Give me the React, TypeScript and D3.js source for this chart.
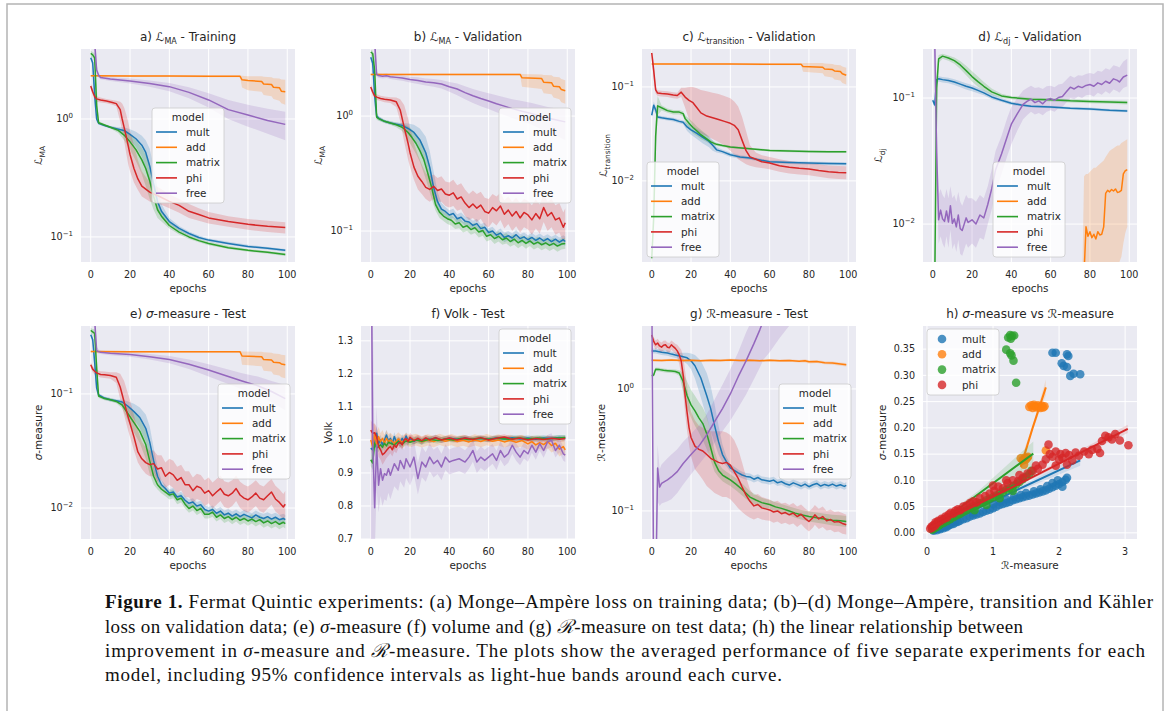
import React from "react";
import * as d3 from "d3";

type Row = [number, number, number, number]; // epoch, mean, lo, hi
type Pt = [number, number];

const MODELS = ["mult", "add", "matrix", "phi", "free"];
const COLORS: Record<string, string> = {
  mult: "#1f77b4",
  add: "#ff7f0e",
  matrix: "#2ca02c",
  phi: "#d62728",
  free: "#9467bd",
};
const X_TICKS = [0, 20, 40, 60, 80, 100];

// ---- a) L_MA training
const A_mult: Row[] = [[0,3.3,3.1,3.5],[1,3.0,2.8,3.2],[2,1.6,1.3,2.0],[3,1.0,0.95,1.1],[4,0.92,0.9,0.94],[7,0.88,0.86,0.9],[10,0.85,0.83,0.87],[14,0.82,0.79,0.85],[17,0.8,0.76,0.85],[20,0.74,0.66,0.82],[23,0.68,0.58,0.78],[26,0.6,0.48,0.72],[28,0.52,0.38,0.66],[30,0.4,0.28,0.56],[32,0.28,0.22,0.4],[34,0.2,0.17,0.26],[36,0.165,0.15,0.19],[40,0.135,0.128,0.145],[45,0.118,0.113,0.124],[50,0.107,0.103,0.111],[55,0.099,0.096,0.103],[60,0.094,0.091,0.097],[70,0.088,0.086,0.091],[80,0.083,0.081,0.086],[90,0.08,0.078,0.082],[99,0.077,0.075,0.079]];
const A_add: Row[] = [[0,2.32,2.28,2.36],[20,2.31,2.27,2.35],[40,2.31,2.27,2.35],[60,2.3,2.26,2.34],[76,2.3,2.26,2.34],[77,2.15,1.85,2.32],[80,2.12,1.75,2.3],[87,2.08,1.7,2.3],[88,1.98,1.6,2.28],[92,1.96,1.56,2.26],[93,1.86,1.48,2.22],[96,1.84,1.43,2.2],[97,1.72,1.36,2.16],[99,1.7,1.32,2.15]];
const A_matrix: Row[] = [[0,3.6,3.4,3.8],[1,3.5,3.3,3.7],[2,3.3,3.0,3.6],[3,1.3,1.0,2.0],[4,0.93,0.9,0.96],[7,0.89,0.87,0.91],[10,0.85,0.83,0.87],[14,0.8,0.76,0.84],[17,0.73,0.66,0.8],[20,0.64,0.55,0.74],[23,0.55,0.44,0.66],[26,0.45,0.34,0.57],[28,0.38,0.27,0.5],[30,0.3,0.21,0.42],[32,0.22,0.17,0.3],[34,0.17,0.145,0.21],[36,0.15,0.135,0.165],[40,0.125,0.118,0.133],[45,0.11,0.105,0.116],[50,0.1,0.096,0.104],[55,0.093,0.09,0.097],[60,0.088,0.085,0.091],[70,0.081,0.079,0.084],[80,0.077,0.075,0.079],[90,0.074,0.072,0.076],[99,0.071,0.069,0.073]];
const A_phi: Row[] = [[0,1.9,1.8,2.0],[1,1.7,1.6,1.8],[2,1.55,1.45,1.65],[3,1.48,1.4,1.56],[5,1.45,1.38,1.52],[8,1.42,1.36,1.48],[11,1.38,1.32,1.45],[13,1.35,1.28,1.43],[15,1.2,0.95,1.4],[16,1.0,0.8,1.35],[17,0.85,0.65,1.25],[18,0.72,0.52,1.1],[19,0.6,0.42,0.95],[20,0.5,0.36,0.8],[22,0.38,0.29,0.6],[24,0.31,0.25,0.45],[26,0.27,0.22,0.36],[30,0.24,0.2,0.29],[35,0.22,0.19,0.26],[40,0.2,0.175,0.23],[45,0.185,0.16,0.21],[50,0.165,0.145,0.19],[55,0.155,0.137,0.175],[60,0.145,0.13,0.163],[70,0.135,0.122,0.15],[80,0.128,0.115,0.142],[90,0.123,0.11,0.137],[99,0.12,0.107,0.133]];
const A_free: Row[] = [[0,14,10,18],[1,9,6,12],[2,4.5,3,6],[3,2.6,2.4,2.9],[4,2.35,2.25,2.45],[5,2.25,2.17,2.33],[10,2.18,2.1,2.26],[20,2.1,2.0,2.2],[30,2.0,1.88,2.12],[40,1.88,1.72,2.02],[50,1.68,1.5,1.86],[60,1.45,1.25,1.65],[70,1.2,1.0,1.45],[80,1.08,0.86,1.32],[90,0.97,0.75,1.22],[99,0.9,0.66,1.15]];

// ---- b) L_MA validation
const B_mult: Row[] = [[0,3.25,3.0,3.5],[1,2.9,2.6,3.2],[2,1.5,1.2,2.0],[3,1.0,0.95,1.08],[4,0.96,0.92,1.0],[7,0.9,0.87,0.93],[10,0.87,0.84,0.9],[13,0.85,0.82,0.88],[16,0.83,0.79,0.87],[19,0.78,0.7,0.86],[22,0.72,0.6,0.84],[25,0.62,0.5,0.78],[28,0.48,0.36,0.66],[30,0.36,0.27,0.5],[32,0.24,0.19,0.33],[34,0.18,0.155,0.22],[36,0.155,0.14,0.175],[38,0.148,0.135,0.162],[40,0.138,0.126,0.152],[42,0.142,0.13,0.156],[44,0.128,0.117,0.14],[46,0.132,0.12,0.145],[48,0.122,0.112,0.134],[50,0.12,0.11,0.131],[52,0.112,0.102,0.123],[54,0.116,0.106,0.127],[56,0.105,0.096,0.115],[58,0.108,0.098,0.118],[60,0.097,0.089,0.106],[62,0.1,0.092,0.109],[64,0.092,0.084,0.1],[66,0.096,0.088,0.105],[68,0.088,0.08,0.097],[70,0.091,0.083,0.1],[72,0.087,0.079,0.095],[74,0.093,0.085,0.102],[76,0.086,0.078,0.094],[78,0.089,0.081,0.097],[80,0.084,0.077,0.092],[82,0.088,0.08,0.096],[84,0.083,0.076,0.091],[86,0.087,0.079,0.095],[88,0.082,0.075,0.09],[90,0.086,0.078,0.094],[92,0.081,0.074,0.089],[94,0.085,0.077,0.093],[96,0.08,0.073,0.088],[98,0.084,0.076,0.092],[99,0.081,0.074,0.089]];
const B_add: Row[] = [[0,2.3,2.26,2.34],[20,2.3,2.26,2.34],[40,2.3,2.26,2.34],[60,2.3,2.26,2.34],[76,2.3,2.26,2.34],[77,2.15,1.8,2.32],[87,2.12,1.72,2.3],[88,1.97,1.58,2.28],[92,1.95,1.55,2.26],[93,1.82,1.45,2.2],[96,1.8,1.4,2.18],[97,1.7,1.32,2.1],[99,1.66,1.28,2.05]];
const B_matrix: Row[] = [[0,3.6,3.4,3.8],[1,3.5,3.3,3.7],[2,2.5,2.0,3.3],[3,0.98,0.93,1.05],[4,0.95,0.91,0.99],[7,0.9,0.87,0.93],[10,0.87,0.84,0.9],[13,0.84,0.8,0.88],[16,0.8,0.74,0.86],[19,0.72,0.62,0.82],[21,0.65,0.54,0.76],[23,0.58,0.47,0.7],[25,0.5,0.4,0.63],[27,0.42,0.32,0.55],[29,0.32,0.25,0.44],[31,0.24,0.19,0.31],[33,0.17,0.15,0.2],[35,0.146,0.13,0.165],[37,0.135,0.122,0.15],[39,0.128,0.115,0.142],[41,0.124,0.112,0.138],[43,0.115,0.104,0.128],[45,0.118,0.106,0.131],[47,0.108,0.097,0.12],[49,0.111,0.1,0.123],[51,0.103,0.093,0.114],[53,0.107,0.096,0.118],[55,0.098,0.088,0.109],[57,0.101,0.091,0.112],[59,0.09,0.081,0.1],[61,0.093,0.084,0.103],[63,0.086,0.077,0.095],[65,0.09,0.081,0.1],[67,0.084,0.076,0.093],[69,0.087,0.078,0.096],[71,0.081,0.073,0.09],[73,0.085,0.076,0.094],[75,0.079,0.071,0.088],[77,0.083,0.075,0.092],[79,0.078,0.07,0.087],[81,0.082,0.074,0.091],[83,0.077,0.069,0.086],[85,0.08,0.072,0.089],[87,0.076,0.068,0.085],[89,0.079,0.071,0.088],[91,0.075,0.067,0.084],[93,0.078,0.07,0.087],[95,0.074,0.066,0.083],[97,0.077,0.069,0.086],[99,0.078,0.07,0.087]];
const B_phi: Row[] = [[0,1.79,1.7,1.9],[1,1.62,1.52,1.72],[2,1.5,1.42,1.6],[3,1.46,1.38,1.55],[5,1.42,1.35,1.5],[7,1.4,1.32,1.48],[10,1.38,1.3,1.46],[13,1.33,1.2,1.45],[15,1.13,0.9,1.4],[17,0.8,0.6,1.25],[19,0.58,0.42,0.95],[20,0.48,0.36,0.8],[22,0.36,0.28,0.58],[24,0.3,0.23,0.46],[26,0.27,0.21,0.38],[28,0.24,0.19,0.32],[30,0.23,0.18,0.3],[32,0.245,0.19,0.31],[34,0.225,0.18,0.29],[36,0.232,0.18,0.3],[38,0.21,0.165,0.27],[40,0.205,0.16,0.265],[42,0.215,0.165,0.28],[44,0.19,0.15,0.25],[46,0.198,0.155,0.26],[48,0.175,0.135,0.23],[50,0.16,0.125,0.21],[52,0.172,0.13,0.225],[54,0.158,0.12,0.21],[56,0.168,0.128,0.22],[58,0.148,0.112,0.195],[60,0.143,0.108,0.19],[62,0.16,0.12,0.21],[64,0.15,0.112,0.2],[66,0.165,0.125,0.215],[68,0.14,0.105,0.185],[70,0.152,0.115,0.2],[72,0.135,0.1,0.18],[74,0.148,0.11,0.195],[76,0.13,0.097,0.175],[78,0.145,0.108,0.19],[80,0.138,0.103,0.183],[82,0.125,0.093,0.168],[84,0.142,0.105,0.188],[86,0.128,0.095,0.17],[88,0.16,0.12,0.21],[90,0.135,0.1,0.18],[92,0.145,0.108,0.19],[94,0.125,0.093,0.168],[96,0.13,0.097,0.175],[98,0.108,0.08,0.145],[99,0.118,0.088,0.158]];
const B_free: Row[] = [[0,14,10,18],[1,9,6,12],[2,4.5,3,6],[3,2.3,2.2,2.45],[4,2.25,2.15,2.35],[6,2.22,2.12,2.32],[8,2.24,2.14,2.34],[10,2.2,2.1,2.3],[13,2.17,2.06,2.28],[16,2.14,2.03,2.25],[20,2.08,1.96,2.2],[24,2.04,1.9,2.17],[28,1.98,1.84,2.12],[32,1.95,1.8,2.1],[36,1.9,1.74,2.06],[40,1.8,1.63,1.98],[44,1.72,1.52,1.92],[48,1.6,1.4,1.82],[52,1.5,1.3,1.72],[56,1.42,1.22,1.64],[60,1.35,1.15,1.58],[64,1.28,1.08,1.52],[68,1.22,1.02,1.46],[72,1.16,0.96,1.4],[77,1.1,0.9,1.35],[82,1.05,0.84,1.3],[86,1.0,0.78,1.25],[90,0.96,0.72,1.2],[94,0.93,0.68,1.17],[99,0.89,0.62,1.14]];

// ---- c) L_transition validation
const C_mult: Row[] = [[0,0.05,0.048,0.052],[1,0.064,0.058,0.07],[2,0.057,0.052,0.062],[3,0.048,0.046,0.05],[5,0.047,0.045,0.049],[8,0.046,0.044,0.048],[11,0.045,0.043,0.047],[14,0.043,0.041,0.045],[16,0.042,0.04,0.044],[18,0.0375,0.034,0.041],[20,0.035,0.031,0.039],[23,0.032,0.028,0.036],[26,0.029,0.025,0.033],[29,0.0265,0.023,0.03],[31,0.024,0.021,0.027],[33,0.0214,0.02,0.023],[36,0.0205,0.0195,0.0215],[40,0.019,0.018,0.02],[45,0.018,0.0172,0.0188],[50,0.0175,0.0168,0.0182],[60,0.016,0.0154,0.0166],[70,0.0157,0.0151,0.0163],[80,0.0155,0.0149,0.0161],[90,0.0153,0.0147,0.0159],[99,0.0152,0.0146,0.0158]];
const C_add: Row[] = [[0,0.176,0.172,0.18],[20,0.175,0.171,0.179],[40,0.175,0.171,0.179],[60,0.174,0.17,0.178],[76,0.174,0.17,0.178],[77,0.165,0.145,0.18],[87,0.162,0.14,0.18],[88,0.155,0.13,0.178],[92,0.153,0.126,0.176],[93,0.148,0.12,0.172],[96,0.146,0.117,0.17],[97,0.138,0.11,0.165],[99,0.133,0.106,0.16]];
const C_matrix: Row[] = [[0,0.0015,0.0012,0.002],[1,0.004,0.003,0.006],[2,0.03,0.02,0.045],[3,0.063,0.05,0.08],[5,0.06,0.056,0.064],[8,0.056,0.053,0.059],[11,0.054,0.051,0.057],[14,0.054,0.051,0.057],[16,0.052,0.049,0.055],[17,0.046,0.042,0.05],[19,0.041,0.036,0.046],[21,0.037,0.032,0.042],[23,0.034,0.03,0.038],[25,0.031,0.028,0.035],[28,0.028,0.026,0.031],[30,0.026,0.0245,0.0275],[33,0.0245,0.0235,0.0255],[36,0.0238,0.023,0.0246],[40,0.023,0.0223,0.0237],[50,0.022,0.0214,0.0226],[60,0.0211,0.0205,0.0217],[70,0.0208,0.0202,0.0214],[80,0.0205,0.0199,0.0211],[90,0.0204,0.0198,0.021],[99,0.0204,0.0198,0.021]];
const C_phi: Row[] = [[0,0.23,0.2,0.26],[1,0.15,0.12,0.19],[2,0.093,0.085,0.1],[3,0.086,0.08,0.092],[5,0.085,0.079,0.091],[8,0.084,0.078,0.09],[11,0.082,0.076,0.088],[13,0.081,0.075,0.087],[15,0.088,0.078,0.098],[17,0.078,0.06,0.098],[19,0.072,0.045,0.1],[21,0.068,0.038,0.1],[23,0.06,0.034,0.097],[25,0.053,0.032,0.093],[28,0.049,0.03,0.09],[31,0.047,0.028,0.087],[34,0.045,0.026,0.084],[37,0.043,0.024,0.08],[40,0.041,0.021,0.076],[42,0.039,0.019,0.07],[44,0.035,0.017,0.062],[46,0.027,0.016,0.048],[48,0.021,0.015,0.034],[50,0.018,0.0145,0.024],[53,0.017,0.014,0.02],[56,0.016,0.0137,0.0188],[60,0.0155,0.0133,0.018],[65,0.0145,0.0125,0.017],[70,0.014,0.012,0.0163],[75,0.0136,0.0117,0.0158],[80,0.0134,0.0115,0.0155],[85,0.0129,0.0111,0.015],[90,0.0125,0.0107,0.0146],[95,0.0123,0.0105,0.0144],[99,0.0122,0.0104,0.0143]];
const C_free: Row[] = [];

// ---- d) L_dj validation
const D_mult: Row[] = [[0,0.096,0.092,0.1],[1,0.088,0.084,0.092],[2,0.14,0.13,0.15],[3,0.142,0.135,0.149],[5,0.14,0.133,0.147],[8,0.138,0.131,0.145],[11,0.134,0.127,0.141],[14,0.129,0.122,0.136],[17,0.124,0.117,0.131],[20,0.12,0.113,0.127],[23,0.115,0.109,0.121],[26,0.11,0.105,0.116],[30,0.102,0.098,0.107],[35,0.096,0.093,0.1],[40,0.091,0.088,0.094],[45,0.088,0.086,0.09],[50,0.086,0.084,0.088],[60,0.085,0.083,0.087],[70,0.083,0.081,0.085],[80,0.082,0.08,0.084],[90,0.08,0.078,0.082],[99,0.079,0.077,0.081]];
const D_add: Row[] = [[0,0.002,0.001,0.003],[40,0.002,0.001,0.003],[76,0.002,0.001,0.003],[77,0.004,0.002,0.024],[78,0.0095,0.0035,0.025],[79,0.008,0.0034,0.025],[80,0.0087,0.0035,0.026],[81,0.0078,0.0034,0.027],[82,0.0083,0.0035,0.028],[83,0.0076,0.0034,0.028],[84,0.0087,0.0036,0.029],[85,0.0082,0.0035,0.03],[86,0.0083,0.0036,0.031],[87,0.0095,0.0038,0.032],[88,0.0175,0.0045,0.034],[89,0.0185,0.0046,0.036],[90,0.018,0.0047,0.038],[91,0.0188,0.0048,0.039],[92,0.0183,0.0048,0.04],[93,0.019,0.0049,0.041],[94,0.0178,0.0048,0.042],[95,0.018,0.005,0.042],[96,0.0185,0.0055,0.044],[97,0.025,0.007,0.045],[98,0.0265,0.0085,0.046],[99,0.027,0.0095,0.047]];
const D_matrix: Row[] = [[0,0.002,0.001,0.003],[1,0.003,0.002,0.005],[2,0.12,0.08,0.16],[3,0.205,0.19,0.22],[5,0.215,0.205,0.225],[8,0.208,0.198,0.218],[11,0.198,0.187,0.21],[14,0.183,0.17,0.197],[17,0.165,0.152,0.18],[20,0.148,0.135,0.163],[23,0.135,0.123,0.148],[26,0.124,0.115,0.134],[30,0.112,0.106,0.119],[35,0.104,0.1,0.108],[40,0.101,0.098,0.104],[50,0.098,0.095,0.101],[60,0.097,0.094,0.1],[70,0.095,0.092,0.098],[80,0.094,0.091,0.097],[90,0.093,0.09,0.096],[99,0.092,0.089,0.095]];
const D_phi: Row[] = [];
const D_free: Row[] = [[0,0.9,0.5,1.5],[1,0.3,0.15,0.6],[2,0.037,0.02,0.07],[3,0.0108,0.007,0.017],[4,0.0129,0.008,0.019],[5,0.011,0.007,0.017],[6,0.0105,0.0065,0.016],[7,0.0127,0.008,0.019],[8,0.0104,0.0065,0.016],[9,0.014,0.009,0.02],[10,0.0101,0.0063,0.016],[11,0.011,0.007,0.017],[12,0.0095,0.006,0.015],[13,0.0118,0.0075,0.018],[14,0.0092,0.0058,0.015],[15,0.0089,0.0056,0.014],[17,0.0112,0.007,0.017],[18,0.0103,0.0065,0.016],[20,0.0108,0.007,0.016],[22,0.01,0.0065,0.015],[24,0.0118,0.0078,0.017],[26,0.0112,0.0075,0.016],[28,0.0143,0.01,0.02],[30,0.019,0.013,0.027],[32,0.027,0.018,0.038],[35,0.036,0.025,0.05],[38,0.05,0.035,0.07],[40,0.062,0.043,0.085],[43,0.075,0.055,0.1],[46,0.089,0.068,0.115],[48,0.094,0.073,0.12],[50,0.098,0.078,0.125],[52,0.092,0.074,0.12],[54,0.095,0.076,0.122],[56,0.09,0.073,0.118],[58,0.097,0.078,0.124],[60,0.099,0.08,0.125],[62,0.096,0.078,0.122],[64,0.101,0.083,0.128],[66,0.103,0.085,0.13],[68,0.112,0.092,0.14],[70,0.122,0.1,0.15],[72,0.118,0.098,0.145],[74,0.124,0.103,0.152],[76,0.121,0.1,0.15],[78,0.126,0.105,0.155],[80,0.128,0.106,0.158],[82,0.124,0.103,0.155],[84,0.132,0.11,0.165],[86,0.128,0.106,0.162],[88,0.136,0.113,0.172],[90,0.131,0.108,0.168],[92,0.142,0.117,0.182],[94,0.138,0.113,0.178],[95,0.134,0.11,0.175],[97,0.147,0.12,0.195],[99,0.152,0.124,0.205]];

// ---- e) sigma-measure test
const E_mult: Row[] = [[0,0.33,0.31,0.35],[1,0.3,0.28,0.32],[2,0.19,0.15,0.24],[3,0.113,0.105,0.125],[4,0.098,0.094,0.102],[7,0.092,0.089,0.095],[10,0.089,0.086,0.092],[13,0.087,0.084,0.09],[16,0.085,0.081,0.089],[19,0.078,0.07,0.086],[22,0.07,0.06,0.082],[25,0.062,0.05,0.076],[28,0.05,0.038,0.066],[30,0.038,0.029,0.052],[32,0.026,0.021,0.034],[34,0.019,0.017,0.023],[36,0.016,0.0148,0.0175],[38,0.0148,0.0137,0.016],[40,0.0135,0.0125,0.0146],[42,0.0138,0.0127,0.015],[44,0.0125,0.0116,0.0135],[46,0.0128,0.0118,0.0139],[48,0.0117,0.0108,0.0127],[50,0.011,0.0102,0.0119],[52,0.0113,0.0104,0.0122],[54,0.0104,0.0096,0.0113],[56,0.0107,0.0099,0.0116],[58,0.0097,0.009,0.0105],[60,0.0094,0.0087,0.0102],[62,0.0097,0.009,0.0105],[64,0.009,0.0083,0.0098],[66,0.0094,0.0087,0.0102],[68,0.0087,0.008,0.0095],[70,0.009,0.0083,0.0098],[72,0.0085,0.0078,0.0093],[74,0.0089,0.0082,0.0097],[76,0.0084,0.0077,0.0092],[78,0.0088,0.0081,0.0096],[80,0.0085,0.0078,0.0093],[82,0.0082,0.0075,0.009],[84,0.0087,0.008,0.0095],[86,0.0083,0.0076,0.0091],[88,0.0081,0.0074,0.0089],[90,0.0084,0.0077,0.0092],[92,0.008,0.0073,0.0088],[94,0.0083,0.0076,0.0091],[96,0.0079,0.0072,0.0087],[98,0.0081,0.0074,0.0089],[99,0.0079,0.0072,0.0087]];
const E_add: Row[] = [[0,0.235,0.231,0.239],[20,0.234,0.23,0.238],[40,0.234,0.23,0.238],[60,0.234,0.23,0.238],[76,0.234,0.23,0.238],[77,0.215,0.18,0.235],[87,0.212,0.175,0.234],[88,0.2,0.16,0.232],[92,0.198,0.157,0.23],[93,0.19,0.148,0.226],[96,0.188,0.145,0.224],[97,0.183,0.14,0.22],[99,0.18,0.137,0.218]];
const E_matrix: Row[] = [[0,0.36,0.34,0.38],[1,0.35,0.33,0.37],[2,0.34,0.3,0.37],[3,0.17,0.12,0.25],[4,0.096,0.092,0.1],[7,0.091,0.088,0.094],[10,0.089,0.086,0.092],[13,0.086,0.083,0.089],[16,0.08,0.075,0.086],[19,0.067,0.058,0.078],[22,0.056,0.046,0.068],[25,0.047,0.037,0.06],[28,0.036,0.027,0.048],[30,0.026,0.02,0.035],[32,0.019,0.016,0.023],[34,0.016,0.0145,0.0178],[36,0.0146,0.0134,0.0158],[38,0.0138,0.0127,0.015],[40,0.013,0.0119,0.0142],[42,0.0133,0.0122,0.0145],[44,0.0118,0.0108,0.0129],[46,0.0122,0.0112,0.0133],[48,0.0108,0.0099,0.0118],[50,0.0099,0.0091,0.0108],[52,0.0104,0.0095,0.0114],[54,0.0095,0.0087,0.0104],[56,0.0099,0.0091,0.0108],[58,0.0088,0.0081,0.0096],[60,0.0088,0.0081,0.0096],[62,0.0092,0.0084,0.01],[64,0.0083,0.0076,0.0091],[66,0.0087,0.008,0.0095],[68,0.0081,0.0074,0.0089],[70,0.0084,0.0077,0.0092],[72,0.0079,0.0072,0.0087],[74,0.0083,0.0076,0.0091],[76,0.0078,0.0071,0.0086],[78,0.0081,0.0074,0.0089],[80,0.0077,0.007,0.0085],[82,0.008,0.0073,0.0088],[84,0.0076,0.0069,0.0084],[86,0.0079,0.0072,0.0087],[88,0.0074,0.0067,0.0082],[90,0.0077,0.007,0.0085],[92,0.0073,0.0066,0.0081],[94,0.0076,0.0069,0.0084],[96,0.0072,0.0065,0.008],[98,0.0075,0.0068,0.0083],[99,0.0073,0.0066,0.0081]];
const E_phi: Row[] = [[0,0.18,0.17,0.19],[1,0.165,0.155,0.175],[2,0.158,0.148,0.168],[3,0.153,0.144,0.163],[5,0.148,0.139,0.158],[7,0.147,0.138,0.157],[10,0.145,0.136,0.155],[13,0.14,0.125,0.155],[15,0.115,0.09,0.15],[17,0.085,0.065,0.13],[19,0.063,0.048,0.1],[20,0.055,0.042,0.088],[22,0.042,0.032,0.065],[24,0.031,0.025,0.048],[26,0.027,0.022,0.038],[28,0.025,0.02,0.034],[30,0.024,0.019,0.032],[32,0.0245,0.019,0.032],[34,0.022,0.017,0.029],[36,0.0225,0.0175,0.029],[38,0.019,0.015,0.025],[40,0.0205,0.016,0.027],[42,0.0195,0.015,0.026],[44,0.0175,0.0135,0.023],[46,0.0185,0.0143,0.024],[48,0.016,0.0124,0.021],[50,0.016,0.0124,0.021],[52,0.0142,0.011,0.0185],[54,0.0155,0.012,0.02],[56,0.015,0.0116,0.0195],[58,0.0135,0.0104,0.0175],[60,0.0142,0.011,0.0185],[62,0.0128,0.0099,0.0167],[64,0.0138,0.0107,0.018],[66,0.0148,0.0115,0.0193],[68,0.0132,0.0102,0.0172],[70,0.0128,0.0099,0.0167],[72,0.0135,0.0104,0.0175],[74,0.0148,0.0115,0.0193],[76,0.013,0.01,0.017],[78,0.0122,0.0094,0.016],[80,0.0118,0.0091,0.0154],[82,0.0125,0.0097,0.0163],[84,0.0135,0.0104,0.0175],[86,0.0122,0.0094,0.016],[88,0.0118,0.0091,0.0154],[90,0.0128,0.0099,0.0167],[92,0.0138,0.0107,0.018],[94,0.012,0.0093,0.0157],[96,0.0112,0.0087,0.0146],[98,0.0102,0.0079,0.0133],[99,0.0108,0.0084,0.0141]];
const E_free: Row[] = [[0,1.5,1.0,2.0],[1,0.9,0.6,1.3],[2,0.45,0.3,0.6],[3,0.24,0.23,0.26],[4,0.235,0.226,0.245],[5,0.232,0.224,0.24],[10,0.227,0.218,0.236],[20,0.222,0.212,0.232],[30,0.212,0.2,0.224],[40,0.2,0.186,0.215],[50,0.182,0.165,0.2],[60,0.162,0.142,0.182],[70,0.142,0.122,0.164],[77,0.13,0.11,0.152],[85,0.118,0.098,0.142],[92,0.105,0.085,0.13],[99,0.091,0.072,0.12]];

// ---- f) Volk test
const F_mult: Row[] = [[0,0.975,0.96,0.99],[1,0.97,0.95,0.99],[2,0.99,0.97,1.01],[3,1.02,1.0,1.04],[4,0.99,0.975,1.005],[5,1.0,0.985,1.015],[6,0.985,0.97,1.0],[7,1.0,0.985,1.015],[8,1.015,1.0,1.03],[9,0.995,0.98,1.01],[10,1.005,0.99,1.02],[11,0.99,0.977,1.003],[12,1.01,0.997,1.023],[13,0.995,0.983,1.007],[14,1.0,0.988,1.012],[15,0.99,0.978,1.002],[16,1.005,0.993,1.017],[17,0.995,0.983,1.007],[18,1.012,1.0,1.024],[19,0.998,0.987,1.009],[20,1.004,0.993,1.015],[22,0.996,0.986,1.006],[24,1.003,0.993,1.013],[26,0.995,0.985,1.005],[28,1.004,0.995,1.013],[30,1.001,0.992,1.01],[33,1.006,0.997,1.015],[36,1.0,0.991,1.009],[40,1.005,0.997,1.013],[44,1.002,0.994,1.01],[48,1.006,0.998,1.014],[52,1.001,0.993,1.009],[56,1.005,0.997,1.013],[60,1.002,0.994,1.01],[64,1.006,0.998,1.014],[68,1.003,0.995,1.011],[72,1.007,0.999,1.015],[76,1.003,0.995,1.011],[80,1.006,0.998,1.014],[84,1.002,0.994,1.01],[88,1.006,0.998,1.014],[92,1.004,0.996,1.012],[96,1.007,0.999,1.015],[99,1.006,0.998,1.014]];
const F_add: Row[] = [[0,1.0,0.97,1.03],[1,0.98,0.95,1.01],[2,1.02,0.99,1.05],[3,0.985,0.955,1.015],[4,1.01,0.98,1.04],[5,0.995,0.97,1.02],[6,1.005,0.98,1.03],[7,0.99,0.965,1.015],[8,1.005,0.98,1.03],[9,0.995,0.972,1.018],[10,1.0,0.978,1.022],[12,0.99,0.97,1.01],[14,1.003,0.983,1.023],[16,0.993,0.974,1.012],[18,1.002,0.983,1.021],[20,0.996,0.978,1.014],[23,1.001,0.983,1.019],[26,0.994,0.977,1.011],[29,1.0,0.983,1.017],[32,0.995,0.978,1.012],[35,1.002,0.985,1.019],[38,0.996,0.979,1.013],[41,1.001,0.984,1.018],[44,0.995,0.978,1.012],[47,0.999,0.982,1.016],[50,0.994,0.977,1.011],[53,1.0,0.983,1.017],[56,0.995,0.978,1.012],[59,1.001,0.984,1.018],[62,0.996,0.979,1.013],[65,1.0,0.983,1.017],[68,0.994,0.977,1.011],[71,0.999,0.982,1.016],[74,0.993,0.976,1.01],[77,0.998,0.98,1.016],[80,0.988,0.97,1.006],[82,0.995,0.977,1.013],[84,0.985,0.966,1.004],[86,0.992,0.973,1.011],[88,0.986,0.966,1.006],[90,0.995,0.975,1.015],[92,0.983,0.962,1.004],[94,0.99,0.969,1.011],[96,0.972,0.95,0.994],[98,0.98,0.958,1.002],[99,0.97,0.948,0.992]];
const F_matrix: Row[] = [[0,0.94,0.92,0.96],[1,0.93,0.91,0.95],[2,0.99,0.97,1.01],[3,0.975,0.958,0.992],[4,0.98,0.965,0.995],[5,0.985,0.97,1.0],[6,0.978,0.963,0.993],[7,0.99,0.976,1.004],[8,0.982,0.968,0.996],[9,0.993,0.98,1.006],[10,0.99,0.977,1.003],[12,0.985,0.972,0.998],[14,0.995,0.983,1.007],[16,0.988,0.976,1.0],[18,0.997,0.986,1.008],[20,0.993,0.982,1.004],[23,1.0,0.99,1.01],[26,0.996,0.986,1.006],[30,1.002,0.993,1.011],[34,0.998,0.989,1.007],[38,1.003,0.995,1.011],[42,1.0,0.992,1.008],[46,1.004,0.996,1.012],[50,1.001,0.993,1.009],[55,1.005,0.997,1.013],[60,1.002,0.994,1.01],[65,1.005,0.997,1.013],[70,1.002,0.994,1.01],[75,1.006,0.998,1.014],[80,1.003,0.995,1.011],[85,1.006,0.998,1.014],[90,1.003,0.995,1.011],[95,1.006,0.998,1.014],[99,1.007,0.999,1.015]];
const F_phi: Row[] = [[0,1.03,1.0,1.06],[1,1.02,0.99,1.05],[2,1.022,0.99,1.05],[3,1.01,0.975,1.04],[4,0.98,0.95,1.01],[5,0.97,0.94,1.0],[6,0.955,0.925,0.985],[7,0.96,0.935,0.99],[8,0.968,0.945,0.993],[9,0.975,0.952,0.998],[10,0.98,0.96,1.0],[11,0.97,0.95,0.99],[12,0.985,0.966,1.004],[13,0.978,0.96,0.996],[14,0.99,0.973,1.007],[15,0.993,0.977,1.009],[16,0.985,0.97,1.0],[17,1.0,0.986,1.014],[18,1.004,0.99,1.018],[19,0.995,0.982,1.008],[20,1.008,0.995,1.021],[22,0.998,0.986,1.01],[24,1.005,0.994,1.016],[26,0.998,0.987,1.009],[28,1.006,0.996,1.016],[30,1.0,0.99,1.01],[33,1.007,0.998,1.016],[36,1.0,0.991,1.009],[40,1.006,0.997,1.015],[44,1.0,0.991,1.009],[48,1.006,0.998,1.014],[52,1.001,0.993,1.009],[56,1.007,0.999,1.015],[60,1.0,0.992,1.008],[64,1.005,0.997,1.013],[68,1.009,1.001,1.017],[72,1.002,0.994,1.01],[76,1.006,0.998,1.014],[80,1.0,0.992,1.008],[84,1.004,0.996,1.012],[88,1.001,0.993,1.009],[92,1.005,0.997,1.013],[96,1.002,0.994,1.01],[99,1.004,0.996,1.012]];
const F_free: Row[] = [[0,1.8,0.6,2.5],[1,1.0,0.6,1.4],[2,0.795,0.65,0.95],[3,0.985,0.85,1.1],[4,0.863,0.78,0.95],[5,0.913,0.83,0.99],[6,0.878,0.8,0.96],[7,0.898,0.82,0.975],[8,0.893,0.815,0.97],[9,0.913,0.84,0.985],[10,0.893,0.82,0.965],[12,0.928,0.86,0.995],[14,0.908,0.845,0.97],[15,0.938,0.875,1.0],[17,0.913,0.855,0.97],[18,0.943,0.885,1.0],[20,0.918,0.862,0.974],[22,0.948,0.895,1.0],[24,0.883,0.835,0.93],[26,0.933,0.887,0.98],[28,0.918,0.873,0.963],[30,0.948,0.905,0.99],[32,0.928,0.886,0.97],[34,0.938,0.897,0.979],[36,0.918,0.878,0.958],[38,0.948,0.909,0.987],[40,0.933,0.895,0.971],[42,0.938,0.9,0.976],[45,0.943,0.906,0.98],[48,0.933,0.897,0.969],[50,0.948,0.913,0.983],[52,0.968,0.934,1.002],[54,0.933,0.9,0.966],[56,0.948,0.915,0.981],[58,0.938,0.906,0.97],[60,0.948,0.917,0.979],[62,0.958,0.928,0.988],[64,0.938,0.909,0.967],[66,0.968,0.94,0.996],[68,0.948,0.92,0.976],[70,0.958,0.931,0.985],[72,0.984,0.958,1.01],[74,0.963,0.937,0.989],[76,0.948,0.923,0.973],[78,0.968,0.944,0.992],[80,0.958,0.934,0.982],[82,0.984,0.961,1.007],[84,0.963,0.94,0.986],[86,0.989,0.967,1.011],[88,0.968,0.946,0.99],[90,0.994,0.973,1.015],[92,0.999,0.978,1.02],[94,0.968,0.947,0.989],[96,0.984,0.963,1.005],[98,0.958,0.937,0.979],[99,0.954,0.933,0.975]];

// ---- g) R-measure test
const G_mult: Row[] = [[0,2.05,1.95,2.15],[2,2.05,1.95,2.15],[5,2.0,1.9,2.1],[8,1.97,1.87,2.07],[10,1.93,1.83,2.03],[13,1.88,1.78,1.98],[15,1.85,1.72,1.98],[18,1.8,1.6,1.98],[20,1.7,1.45,1.95],[22,1.55,1.22,1.9],[25,1.23,0.85,1.7],[28,0.88,0.58,1.35],[30,0.69,0.45,1.05],[32,0.5,0.36,0.75],[34,0.37,0.29,0.5],[36,0.29,0.25,0.35],[38,0.254,0.232,0.28],[40,0.225,0.21,0.242],[42,0.215,0.2,0.23],[44,0.205,0.192,0.219],[46,0.197,0.185,0.21],[48,0.192,0.18,0.205],[50,0.19,0.178,0.203],[52,0.182,0.171,0.194],[54,0.188,0.176,0.2],[56,0.18,0.169,0.192],[58,0.178,0.167,0.19],[60,0.175,0.164,0.187],[62,0.179,0.168,0.191],[64,0.17,0.16,0.181],[66,0.174,0.163,0.185],[68,0.167,0.157,0.178],[70,0.163,0.153,0.174],[72,0.17,0.16,0.181],[74,0.165,0.155,0.176],[76,0.16,0.15,0.17],[78,0.166,0.156,0.177],[80,0.158,0.149,0.168],[82,0.164,0.154,0.175],[84,0.168,0.158,0.179],[86,0.16,0.15,0.17],[88,0.165,0.155,0.176],[90,0.161,0.151,0.171],[92,0.166,0.156,0.177],[94,0.16,0.15,0.17],[96,0.164,0.154,0.175],[98,0.159,0.149,0.169],[99,0.162,0.152,0.173]];
const G_add: Row[] = [[0,1.72,1.68,1.76],[5,1.71,1.67,1.75],[10,1.73,1.69,1.77],[15,1.71,1.67,1.75],[20,1.72,1.68,1.76],[25,1.7,1.66,1.74],[30,1.72,1.68,1.76],[35,1.71,1.67,1.75],[40,1.73,1.69,1.77],[45,1.71,1.67,1.75],[50,1.72,1.68,1.76],[55,1.7,1.66,1.74],[60,1.72,1.68,1.76],[65,1.7,1.66,1.74],[70,1.71,1.67,1.75],[75,1.69,1.65,1.73],[78,1.7,1.65,1.75],[80,1.67,1.62,1.72],[84,1.68,1.63,1.73],[88,1.64,1.59,1.69],[92,1.63,1.58,1.68],[96,1.6,1.55,1.65],[99,1.58,1.53,1.63]];
const G_matrix: Row[] = [[0,1.28,1.24,1.32],[1,1.3,1.26,1.34],[2,1.45,1.4,1.5],[4,1.44,1.39,1.49],[6,1.42,1.37,1.47],[8,1.41,1.36,1.46],[10,1.4,1.35,1.45],[12,1.39,1.34,1.44],[14,1.35,1.28,1.42],[16,1.15,0.95,1.35],[18,0.88,0.7,1.15],[20,0.74,0.58,0.98],[22,0.66,0.5,0.88],[24,0.58,0.44,0.78],[26,0.52,0.38,0.7],[28,0.43,0.32,0.6],[30,0.33,0.26,0.45],[32,0.25,0.21,0.31],[34,0.215,0.19,0.245],[36,0.197,0.175,0.222],[38,0.188,0.167,0.21],[40,0.18,0.16,0.2],[43,0.165,0.147,0.185],[46,0.15,0.134,0.168],[50,0.13,0.118,0.145],[53,0.123,0.112,0.136],[56,0.117,0.107,0.128],[60,0.113,0.104,0.123],[63,0.108,0.099,0.118],[66,0.105,0.096,0.114],[70,0.1,0.092,0.109],[73,0.096,0.088,0.105],[76,0.093,0.085,0.102],[80,0.09,0.082,0.099],[84,0.088,0.08,0.097],[88,0.086,0.078,0.095],[92,0.084,0.076,0.093],[96,0.083,0.075,0.092],[99,0.082,0.074,0.091]];
const G_phi: Row[] = [[0,2.77,2.5,3.0],[1,2.45,2.25,2.65],[2,2.3,2.1,2.5],[3,2.38,2.18,2.58],[4,2.25,2.05,2.45],[5,2.2,2.0,2.4],[6,2.28,2.08,2.48],[7,2.3,2.1,2.5],[8,2.2,2.0,2.4],[9,2.18,1.98,2.38],[10,2.3,2.1,2.5],[11,2.22,2.02,2.42],[12,2.15,1.95,2.35],[13,2.05,1.82,2.3],[14,1.9,1.6,2.2],[15,1.7,1.3,2.1],[16,1.3,0.95,1.85],[17,0.88,0.62,1.4],[18,0.64,0.45,1.05],[19,0.48,0.35,0.78],[20,0.4,0.28,0.65],[22,0.34,0.22,0.55],[24,0.32,0.2,0.5],[26,0.31,0.18,0.48],[28,0.29,0.16,0.46],[30,0.27,0.15,0.45],[32,0.26,0.14,0.45],[34,0.25,0.135,0.45],[36,0.245,0.13,0.45],[38,0.25,0.13,0.44],[40,0.237,0.125,0.42],[42,0.21,0.115,0.38],[44,0.185,0.105,0.32],[46,0.157,0.098,0.25],[48,0.135,0.092,0.19],[50,0.12,0.088,0.15],[52,0.11,0.085,0.135],[54,0.113,0.088,0.138],[56,0.106,0.085,0.13],[58,0.104,0.084,0.127],[60,0.102,0.083,0.124],[62,0.098,0.08,0.119],[64,0.1,0.082,0.121],[66,0.095,0.078,0.115],[68,0.097,0.08,0.117],[70,0.093,0.077,0.112],[72,0.096,0.079,0.116],[74,0.09,0.074,0.109],[76,0.094,0.078,0.113],[78,0.087,0.072,0.105],[80,0.082,0.068,0.099],[82,0.088,0.073,0.106],[83,0.093,0.077,0.112],[85,0.086,0.071,0.104],[87,0.09,0.074,0.109],[89,0.083,0.069,0.1],[91,0.085,0.07,0.103],[93,0.081,0.067,0.098],[95,0.082,0.068,0.099],[97,0.079,0.065,0.096],[99,0.077,0.064,0.093]];
const G_free: Row[] = [[0,8,5,12],[1,0.02,0.01,0.04],[2,0.02,0.01,0.04],[3,0.225,0.12,0.35],[4,0.157,0.11,0.22],[5,0.168,0.115,0.24],[8,0.18,0.12,0.27],[10,0.19,0.125,0.29],[13,0.21,0.14,0.32],[16,0.245,0.165,0.37],[20,0.29,0.2,0.43],[24,0.34,0.24,0.5],[28,0.42,0.29,0.62],[32,0.54,0.36,0.82],[36,0.69,0.45,1.08],[40,0.91,0.55,1.45],[44,1.26,0.7,2.0],[48,1.7,0.9,2.9],[52,2.35,1.2,4.0],[55,3.05,1.5,5.0],[57,3.7,1.75,6.0],[60,4.6,2.0,7.5],[65,6,2.6,10],[70,8,3.3,14],[80,12,5,20],[99,18,9,30]];

// ---- h) sigma vs R scatter
const H_mult: Pt[] = [[0.1,0.004],[0.12,0.006],[0.15,0.005],[0.18,0.008],[0.2,0.007],[0.22,0.01],[0.25,0.009],[0.28,0.012],[0.3,0.011],[0.33,0.014],[0.36,0.016],[0.4,0.017],[0.43,0.02],[0.47,0.021],[0.5,0.023],[0.55,0.026],[0.6,0.028],[0.65,0.031],[0.7,0.033],[0.75,0.035],[0.8,0.037],[0.85,0.04],[0.9,0.042],[0.95,0.044],[1.0,0.047],[1.05,0.05],[1.1,0.053],[1.15,0.055],[1.2,0.057],[1.25,0.059],[1.3,0.062],[1.35,0.064],[1.4,0.066],[1.45,0.068],[1.5,0.07],[1.55,0.071],[1.6,0.073],[1.65,0.075],[1.7,0.077],[1.75,0.079],[1.8,0.081],[1.85,0.084],[1.9,0.087],[1.95,0.09],[2.0,0.093],[2.05,0.097],[2.1,0.101],[2.12,0.105],[1.98,0.1],[2.05,0.088],[1.9,0.095],[1.82,0.089],[1.72,0.083],[1.62,0.079],[1.5,0.076],[1.42,0.072],[1.32,0.069],[1.2,0.064],[1.1,0.06],[1.0,0.055],[0.7,0.038],[1.9,0.343],[1.95,0.343],[2.12,0.34],[2.14,0.337],[2.04,0.323],[2.07,0.318],[2.12,0.316],[2.17,0.299],[2.32,0.302],[2.22,0.303]];
const H_add: Pt[] = [[1.42,0.142],[1.45,0.138],[1.48,0.143],[1.5,0.14],[1.53,0.145],[1.47,0.13],[1.52,0.143],[1.55,0.24],[1.58,0.243],[1.6,0.238],[1.62,0.244],[1.64,0.241],[1.66,0.239],[1.68,0.243],[1.7,0.24],[1.72,0.238],[1.74,0.242],[1.76,0.239],[1.78,0.241],[1.8,0.157]];
const H_matrix: Pt[] = [[0.08,0.006],[0.1,0.008],[0.12,0.01],[0.15,0.011],[0.18,0.014],[0.2,0.016],[0.25,0.019],[0.3,0.022],[0.35,0.026],[0.4,0.03],[0.45,0.033],[0.5,0.036],[0.55,0.04],[0.6,0.043],[0.65,0.047],[0.7,0.05],[0.75,0.052],[0.8,0.056],[0.85,0.058],[0.9,0.062],[0.95,0.065],[1.0,0.068],[1.05,0.071],[1.1,0.075],[1.15,0.078],[1.2,0.082],[1.25,0.085],[1.3,0.089],[1.35,0.092],[1.4,0.097],[1.45,0.102],[1.5,0.107],[1.55,0.112],[1.58,0.118],[0.72,0.043],[0.9,0.053],[1.1,0.066],[1.3,0.08],[1.26,0.377],[1.29,0.375],[1.32,0.376],[1.23,0.372],[1.27,0.37],[1.2,0.349],[1.26,0.342],[1.28,0.338],[1.31,0.328],[1.35,0.286]];
const H_phi: Pt[] = [[0.05,0.008],[0.07,0.012],[0.08,0.01],[0.1,0.015],[0.12,0.013],[0.13,0.02],[0.15,0.018],[0.17,0.023],[0.2,0.022],[0.22,0.027],[0.25,0.026],[0.28,0.031],[0.3,0.029],[0.33,0.035],[0.36,0.038],[0.4,0.037],[0.43,0.042],[0.47,0.045],[0.5,0.043],[0.55,0.05],[0.6,0.052],[0.65,0.057],[0.7,0.06],[0.75,0.058],[0.8,0.066],[0.88,0.07],[0.95,0.075],[1.02,0.08],[1.08,0.088],[1.15,0.085],[1.22,0.095],[1.3,0.1],[1.38,0.098],[1.45,0.105],[1.52,0.113],[1.6,0.118],[1.68,0.122],[1.75,0.13],[1.8,0.14],[1.84,0.168],[1.86,0.15],[1.9,0.145],[1.95,0.155],[2.0,0.14],[2.02,0.15],[2.05,0.143],[2.1,0.152],[2.15,0.148],[2.2,0.138],[2.25,0.153],[2.3,0.147],[2.38,0.155],[2.45,0.15],[2.5,0.158],[2.58,0.16],[2.62,0.152],[2.65,0.175],[2.7,0.185],[2.75,0.182],[2.8,0.178],[2.85,0.188],[2.92,0.176],[3.05,0.167],[1.65,0.128],[1.95,0.128],[2.12,0.13],[1.4,0.11],[1.2,0.1],[1.0,0.09]];
// regression lines: [R, sigma, lo, hi]
const REG_mult: Row[] = [[0.06,0.005,0.0,0.01],[1.2,0.072,0.069,0.075],[2.32,0.138,0.128,0.148]];
const REG_add: Row[] = [[1.42,0.126,0.112,0.14],[1.6,0.2,0.196,0.204],[1.8,0.277,0.262,0.292]];
const REG_matrix: Row[] = [[0.05,0.006,0.0,0.012],[0.8,0.076,0.07,0.082],[1.61,0.151,0.128,0.174]];
const REG_phi: Row[] = [[0.05,0.01,0.006,0.014],[1.5,0.1,0.097,0.103],[3.04,0.198,0.19,0.206]];

// ---------------------------------------------------------------------------
const FONT = "'DejaVu Sans', Verdana, sans-serif";
const INK = "#262626";
const BG = "#eaeaf2";
const W = 214;
const H = 213;
const TICK = 9.6;
const LAB = 10.4;

function LineLegend({ x, y }: { x: number; y: number }) {
  return (
    <g fontFamily={FONT} fontSize={LAB} fill={INK}>
      <rect x={x} y={y} width={72} height={95} rx={3} fill="#fff" fillOpacity={0.8} stroke="#cccccc" strokeWidth={0.8} />
      <text x={x + 36} y={y + 9.5} dy="0.35em" textAnchor="middle">model</text>
      {MODELS.map((m, i) => {
        const cy = y + 24 + i * 15.3;
        return (
          <g key={m}>
            <line x1={x + 4} x2={x + 25} y1={cy} y2={cy} stroke={COLORS[m]} strokeWidth={1.6} />
            <text x={x + 34} y={cy} dy="0.35em">{m}</text>
          </g>
        );
      })}
    </g>
  );
}

function LinePanel(p: any) {
  const { id, left, top, title, ylabel, ylabelDx, log, yDomain, yTicks, yTickText, series, legend } = p;
  const x = d3.scaleLinear().domain([-4.95, 103.95]).range([left, left + W]);
  const y = log
    ? d3.scaleLog().domain(yDomain).range([top + H, top])
    : d3.scaleLinear().domain(yDomain).range([top + H, top]);
  const line = d3.line<Row>().x((d) => x(d[0])).y((d) => y(d[1]));
  const band = d3
    .area<Row>()
    .x((d) => x(d[0]))
    .y0((d) => y(d[2]))
    .y1((d) => y(d[3]));
  const bottom = top + H;
  return (
    <g>
      <rect x={left} y={top} width={W} height={H} fill={BG} />
      {X_TICKS.map((t) => (
        <line key={"gx" + t} x1={x(t)} x2={x(t)} y1={top} y2={bottom} stroke="#fff" strokeWidth={1} />
      ))}
      {yTicks.map((t: number) => (
        <line key={"gy" + t} x1={left} x2={left + W} y1={y(t)} y2={y(t)} stroke="#fff" strokeWidth={1} />
      ))}
      <clipPath id={id}>
        <rect x={left} y={top} width={W} height={H} />
      </clipPath>
      <g clipPath={`url(#${id})`}>
        {MODELS.map((m) =>
          series[m].length ? <path key={"b" + m} d={band(series[m]) || ""} fill={COLORS[m]} fillOpacity={0.2} /> : null
        )}
        {MODELS.map((m) =>
          series[m].length ? (
            <path key={"l" + m} d={line(series[m]) || ""} fill="none" stroke={COLORS[m]} strokeWidth={1.5} strokeLinejoin="round" />
          ) : null
        )}
      </g>
      <g fontFamily={FONT} fontSize={TICK} fill={INK}>
        {X_TICKS.map((t) => (
          <text key={"tx" + t} x={x(t)} y={bottom + 16} textAnchor="middle">{t}</text>
        ))}
        {yTicks.map((t: number, i: number) => (
          <text key={"ty" + t} x={left - 8} y={y(t)} dy="0.35em" textAnchor="end">{yTickText[i]}</text>
        ))}
      </g>
      <text x={left + W / 2} y={bottom + 30} textAnchor="middle" fontFamily={FONT} fontSize={LAB} fill={INK}>epochs</text>
      <text transform={`translate(${left - ylabelDx},${top + H / 2}) rotate(-90)`} textAnchor="middle" fontFamily={FONT} fontSize={LAB} fill={INK}>
        {ylabel}
      </text>
      <text x={left + W / 2} y={top - 8} textAnchor="middle" fontFamily={FONT} fontSize={12} fill={INK}>{title}</text>
      <LineLegend x={legend[0]} y={legend[1]} />
    </g>
  );
}

function Pow({ e }: { e: string }) {
  return (
    <>
      10<tspan dy={-4.5} fontSize={7}>{e}</tspan>
    </>
  );
}

// "head" + subscript + optional "rest" back on the baseline
function WithSub({ head, sub, rest, size = 8 }: { head: string; sub: string; rest?: string; size?: number }) {
  return (
    <>
      {head}
      <tspan dy={2.5} fontSize={size}>{sub}</tspan>
      {rest ? <tspan dy={-2.5}>{rest}</tspan> : null}
    </>
  );
}

function ScatterPanel({ left, top }: { left: number; top: number }) {
  const x = d3.scaleLinear().domain([-0.06, 3.18]).range([left, left + W]);
  const y = d3.scaleLinear().domain([-0.0117, 0.394]).range([top + H, top]);
  const xt = [0, 1, 2, 3];
  const yt = [0, 0.05, 0.1, 0.15, 0.2, 0.25, 0.3, 0.35];
  const pts: Record<string, Pt[]> = { mult: H_mult, add: H_add, matrix: H_matrix, phi: H_phi };
  const regs: Record<string, Row[]> = { mult: REG_mult, add: REG_add, matrix: REG_matrix, phi: REG_phi };
  const keys = ["mult", "add", "matrix", "phi"];
  const line = d3.line<Row>().x((d) => x(d[0])).y((d) => y(d[1]));
  const band = d3.area<Row>().x((d) => x(d[0])).y0((d) => y(d[2])).y1((d) => y(d[3]));
  const bottom = top + H;
  return (
    <g>
      <rect x={left} y={top} width={W} height={H} fill={BG} />
      {xt.map((t) => (
        <line key={"gx" + t} x1={x(t)} x2={x(t)} y1={top} y2={bottom} stroke="#fff" />
      ))}
      {yt.map((t) => (
        <line key={"gy" + t} x1={left} x2={left + W} y1={y(t)} y2={y(t)} stroke="#fff" />
      ))}
      <clipPath id="clip-h">
        <rect x={left} y={top} width={W} height={H} />
      </clipPath>
      <g clipPath="url(#clip-h)">
        {keys.map((k) => (
          <g key={k}>
            {pts[k].map((d, i) => (
              <circle key={i} cx={x(d[0])} cy={y(d[1])} r={4.3} fill={COLORS[k]} fillOpacity={0.8} />
            ))}
            <path d={band(regs[k]) || ""} fill={COLORS[k]} fillOpacity={0.15} />
            <path d={line(regs[k]) || ""} stroke={COLORS[k]} strokeWidth={2} fill="none" />
          </g>
        ))}
      </g>
      <g fontFamily={FONT} fontSize={TICK} fill={INK}>
        {xt.map((t) => (
          <text key={"tx" + t} x={x(t)} y={bottom + 16} textAnchor="middle">{t}</text>
        ))}
        {yt.map((t) => (
          <text key={"ty" + t} x={left - 8} y={y(t)} dy="0.35em" textAnchor="end">{d3.format(".2f")(t)}</text>
        ))}
      </g>
      <text x={left + W / 2} y={bottom + 30} textAnchor="middle" fontFamily={FONT} fontSize={LAB} fill={INK}>ℛ-measure</text>
      <text transform={`translate(${left - 37},${top + H / 2}) rotate(-90)`} textAnchor="middle" fontFamily={FONT} fontSize={LAB} fill={INK}>
        <tspan fontStyle="italic">σ</tspan>-measure
      </text>
      <text x={left + W / 2} y={top - 8} textAnchor="middle" fontFamily={FONT} fontSize={12} fill={INK}>
        h) <tspan fontStyle="italic">σ</tspan>-measure vs ℛ-measure
      </text>
      <g fontFamily={FONT} fontSize={LAB} fill={INK}>
        <rect x={left + 4} y={top + 3} width={72} height={66} rx={3} fill="#fff" fillOpacity={0.8} stroke="#cccccc" strokeWidth={0.8} />
        {keys.map((k, i) => {
          const cy = top + 13 + i * 15.3;
          return (
            <g key={k}>
              <circle cx={left + 19} cy={cy} r={4.3} fill={COLORS[k]} fillOpacity={0.8} />
              <text x={left + 39} y={cy} dy="0.35em">{k}</text>
            </g>
          );
        })}
      </g>
    </g>
  );
}

const LEFTS = [81, 361, 642, 923];
const TOPS = [49, 326];

export default function App() {
  const logTicks2 = [0.1, 1];
  const logTicks1 = [0.01, 0.1];
  const capFont = "'Liberation Serif', 'DejaVu Serif', serif";
  const capX = 105;
  return (
    <div style={{ position: "absolute", left: 0, top: 0 }}>
      <svg width={1167} height={711} style={{ display: "block", background: "#fff" }}>
        <rect x={7} y={4} width={1156} height={740} fill="none" stroke="#b4b4b4" strokeWidth={1.5} />
        <LinePanel
          id="clip-a" left={LEFTS[0]} top={TOPS[0]} log yDomain={[0.0613, 3.92]} yTicks={logTicks2}
          yTickText={[<Pow e="−1" />, <Pow e="0" />]}
          title={<WithSub head="a) ℒ" sub="MA" rest=" - Training" />}
          ylabel={<WithSub head="ℒ" sub="MA" size={7.5} />} ylabelDx={39}
          series={{ mult: A_mult, add: A_add, matrix: A_matrix, phi: A_phi, free: A_free }}
          legend={[152, 108]}
        />
        <LinePanel
          id="clip-b" left={LEFTS[1]} top={TOPS[0]} log yDomain={[0.0538, 3.83]} yTicks={logTicks2}
          yTickText={[<Pow e="−1" />, <Pow e="0" />]}
          title={<WithSub head="b) ℒ" sub="MA" rest=" - Validation" />}
          ylabel={<WithSub head="ℒ" sub="MA" size={7.5} />} ylabelDx={39}
          series={{ mult: B_mult, add: B_add, matrix: B_matrix, phi: B_phi, free: B_free }}
          legend={[499, 108]}
        />
        <LinePanel
          id="clip-c" left={LEFTS[2]} top={TOPS[0]} log yDomain={[0.00137, 0.2535]} yTicks={logTicks1}
          yTickText={[<Pow e="−2" />, <Pow e="−1" />]}
          title={<WithSub head="c) ℒ" sub="transition" rest=" - Validation" />}
          ylabel={<WithSub head="ℒ" sub="transition" size={7.5} />} ylabelDx={35}
          series={{ mult: C_mult, add: C_add, matrix: C_matrix, phi: C_phi, free: C_free }}
          legend={[647, 162]}
        />
        <LinePanel
          id="clip-d" left={LEFTS[3]} top={TOPS[0]} log yDomain={[0.005, 0.245]} yTicks={logTicks1}
          yTickText={[<Pow e="−2" />, <Pow e="−1" />]}
          title={<WithSub head="d) ℒ" sub="dj" rest=" - Validation" />}
          ylabel={<WithSub head="ℒ" sub="dj" size={7.5} />} ylabelDx={41}
          series={{ mult: D_mult, add: D_add, matrix: D_matrix, phi: D_phi, free: D_free }}
          legend={[993, 162]}
        />
        <LinePanel
          id="clip-e" left={LEFTS[0]} top={TOPS[1]} log yDomain={[0.00535, 0.394]} yTicks={logTicks1}
          yTickText={[<Pow e="−2" />, <Pow e="−1" />]}
          title={<>e) <tspan fontStyle="italic">σ</tspan>-measure - Test</>}
          ylabel={<><tspan fontStyle="italic">σ</tspan>-measure</>} ylabelDx={39}
          series={{ mult: E_mult, add: E_add, matrix: E_matrix, phi: E_phi, free: E_free }}
          legend={[218, 384]}
        />
        <LinePanel
          id="clip-f" left={LEFTS[1]} top={TOPS[1]} log={false} yDomain={[0.7, 1.345]}
          yTicks={[0.7, 0.8, 0.9, 1.0, 1.1, 1.2, 1.3]}
          yTickText={["0.7", "0.8", "0.9", "1.0", "1.1", "1.2", "1.3"]}
          title={<>f) Volk - Test</>}
          ylabel={<>Volk</>} ylabelDx={29}
          series={{ mult: F_mult, add: F_add, matrix: F_matrix, phi: F_phi, free: F_free }}
          legend={[499, 329]}
        />
        <LinePanel
          id="clip-g" left={LEFTS[2]} top={TOPS[1]} log yDomain={[0.0589, 3.28]} yTicks={logTicks2}
          yTickText={[<Pow e="−1" />, <Pow e="0" />]}
          title={<>g) ℛ-measure - Test</>}
          ylabel={<>ℛ-measure</>} ylabelDx={37}
          series={{ mult: G_mult, add: G_add, matrix: G_matrix, phi: G_phi, free: G_free }}
          legend={[779, 384]}
        />
        <ScatterPanel left={LEFTS[3]} top={TOPS[1]} />
        <g fontFamily={capFont} fontSize={19} fill="#111">
          <text x={capX} y={608} textLength={1048} lengthAdjust="spacing">
            <tspan fontWeight="bold">Figure 1.</tspan>
            {" Fermat Quintic experiments: (a) Monge–Ampère loss on training data; (b)–(d) Monge–Ampère, transition and Kähler"}
          </text>
          <text x={capX} y={632.5} textLength={918} lengthAdjust="spacing">
            {"loss on validation data; (e) "}
            <tspan fontStyle="italic">σ</tspan>
            {"-measure (f) volume and (g) "}
            <tspan fontStyle="italic">ℛ</tspan>
            {"-measure on test data; (h) the linear relationship between"}
          </text>
          <text x={capX} y={657} textLength={1040} lengthAdjust="spacing">
            {"improvement in "}
            <tspan fontStyle="italic">σ</tspan>
            {"-measure and "}
            <tspan fontStyle="italic">ℛ</tspan>
            {"-measure. The plots show the averaged performance of five separate experiments for each"}
          </text>
          <text x={capX} y={681} textLength={677} lengthAdjust="spacing">
            {"model, including 95% confidence intervals as light-hue bands around each curve."}
          </text>
        </g>
      </svg>
    </div>
  );
}
